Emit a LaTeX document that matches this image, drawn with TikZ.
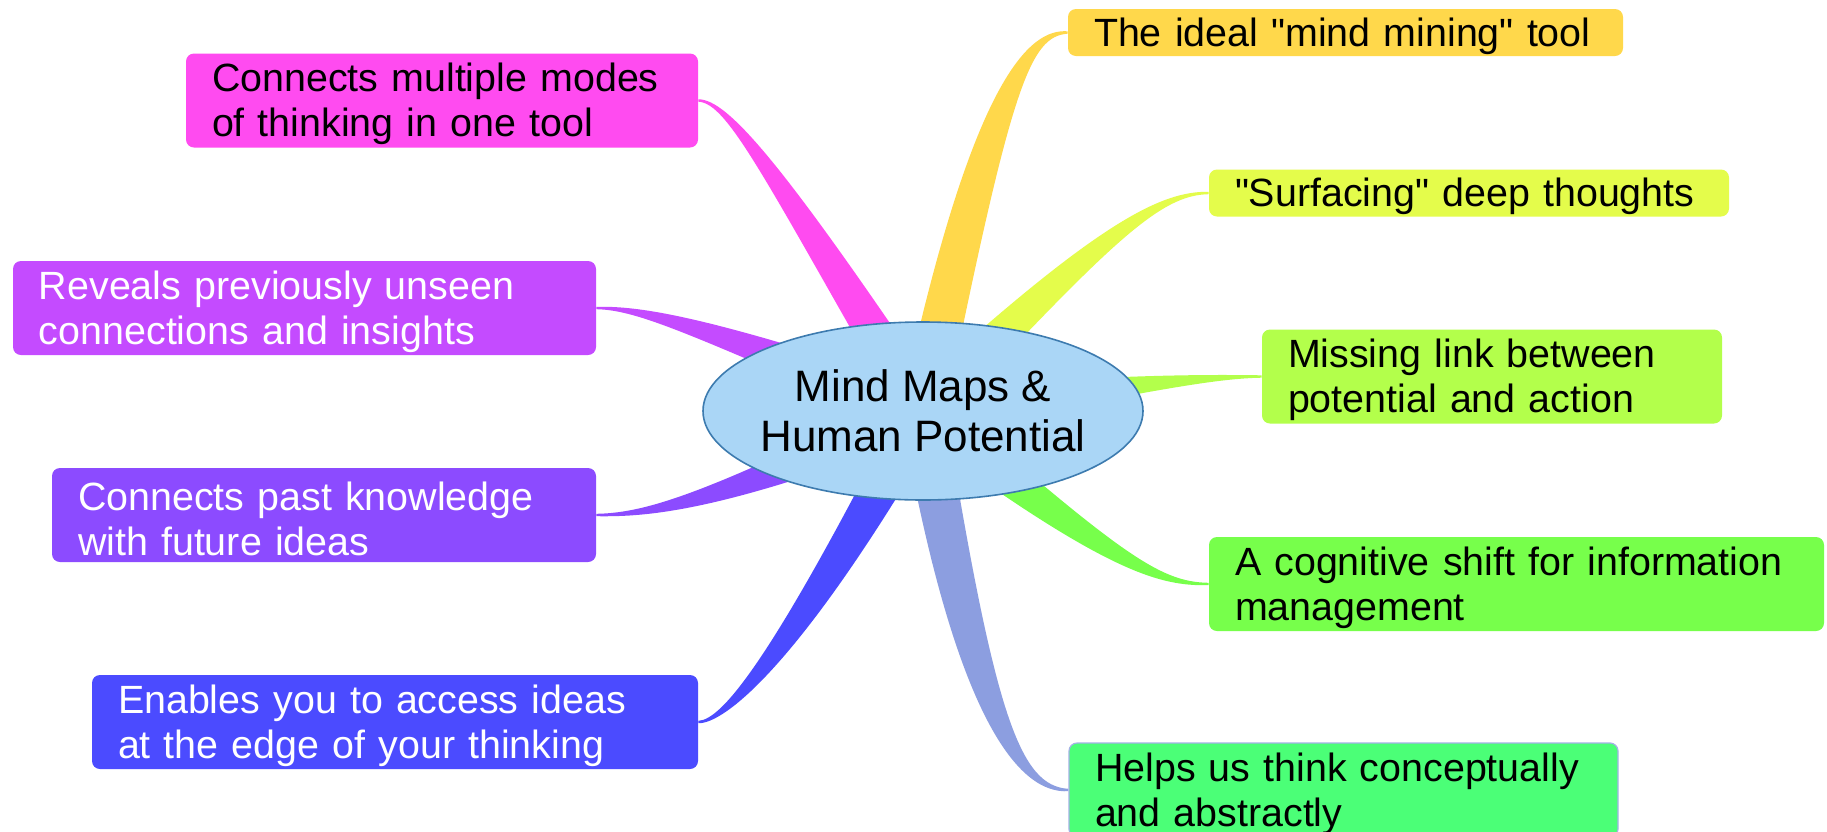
\documentclass[tikz,border=0pt]{standalone}
\usepackage{fontspec}
\setmainfont{Liberation Sans}[Ligatures=TeXOff]
\usetikzlibrary{calc,shapes.geometric}

\definecolor{cModes}{HTML}{FF4BF0}
\definecolor{cReveals}{HTML}{C44BFF}
\definecolor{cPast}{HTML}{8C4BFF}
\definecolor{cEnables}{HTML}{4B4BFF}
\definecolor{cIdeal}{HTML}{FFD84B}
\definecolor{cSurface}{HTML}{E4FC4B}
\definecolor{cMissing}{HTML}{B3FF4B}
\definecolor{cShift}{HTML}{77FF4B}
\definecolor{cHelps}{HTML}{4BFF77}
\definecolor{cHelpsLink}{HTML}{8C9EE0}
\definecolor{cHub}{HTML}{AAD6F6}
\definecolor{cHubLine}{HTML}{3D7BAF}

\pgfdeclarelayer{bg}
\pgfsetlayers{bg,main}

\tikzset{
  idea/.style={rectangle, rounded corners=4pt, inner xsep=13pt, inner ysep=0pt,
    align=left, font=\fontsize{19.7}{22.5}\selectfont, minimum height=47pt,
    execute at begin node=\rule{0pt}{18pt}},
  oneline/.style={idea, minimum height=23.5pt},
  light/.style={text=white},
}

% tapered branch: colour, control near hub, control near box, box anchor, half widths
\newcommand{\branch}[6]{%
  \fill[#1] ($(hub)!11pt!90:#2$)
    .. controls ($#2!#5!-90:(hub)$) and ($#3!#6!90:(#4)$) .. ($(#4)!0.6pt!-90:#3$)
    -- ($(#4)!0.6pt!90:#3$)
    .. controls ($#3!#6!-90:(#4)$) and ($#2!#5!90:(hub)$) .. ($(hub)!11pt!-90:#2$)
    -- cycle;}

\begin{document}
\begin{tikzpicture}[x=0.5pt,y=-0.5pt]
  \useasboundingbox (0,0) rectangle (1827,831);

  \node[ellipse, fill=cHub, draw=cHubLine, line width=0.8pt, minimum width=220pt,
    minimum height=89pt, inner xsep=-5pt, inner ysep=0pt, align=center,
    font=\fontsize{22}{25}\selectfont] (hub) at (923,411) {Mind Maps \&\\Human Potential};

  \node[idea, fill=cModes, text width=230pt] (modes) at (442,100.5)
    {Connects multiple modes\\of thinking in one tool};
  \node[idea, light, fill=cReveals, text width=265.5pt] (reveals) at (304.5,308)
    {Reveals previously unseen\\connections and insights};
  \node[idea, light, fill=cPast, text width=246pt] (past) at (324,515)
    {Connects past knowledge\\with future ideas};
  \node[idea, light, fill=cEnables, text width=277pt] (enables) at (395,722)
    {Enables you to access ideas\\at the edge of your thinking};

  \node[oneline, fill=cIdeal, text width=251.5pt] (ideal) at (1345.5,32.5)
    {The ideal "mind mining" tool};
  \node[oneline, fill=cSurface, text width=234pt] (surface) at (1469,193)
    {"Surfacing" deep thoughts};
  \node[idea, fill=cMissing, text width=204pt] (missing) at (1492,376.5)
    {Missing link between\\potential and action};
  \node[idea, fill=cShift, text width=281.5pt] (shift) at (1516.5,584)
    {A cognitive shift for information\\management};
  \node[idea, fill=cHelps, draw=cHelpsLink!80, line width=0.6pt, text width=248.5pt] (helps) at (1343.5,790)
    {Helps us think conceptually\\and abstractly};

  \begin{pgfonlayer}{bg}
    \fill[white] (0,0) rectangle (1827,831);
    \branch{cModes}{(775,173)}{(728,101)}{modes.east}{6pt}{1pt}
    \branch{cIdeal}{(992,80)}{(1030,32.5)}{ideal.west}{10pt}{2pt}
    \branch{cSurface}{(1104,232)}{(1160,193)}{surface.west}{6pt}{1pt}
    \branch{cMissing}{(1120,386)}{(1205,376.5)}{missing.west}{6pt}{1pt}
    \branch{cShift}{(1115,565)}{(1160,584)}{shift.west}{6pt}{1pt}
    \branch{cHelpsLink}{(975,720)}{(1020,790)}{helps.west}{10pt}{2pt}
    \branch{cEnables}{(785,665)}{(722,722)}{enables.east}{7pt}{1pt}
    \branch{cPast}{(720,500)}{(650,515)}{past.east}{6pt}{1pt}
    \branch{cReveals}{(700,326)}{(640,308)}{reveals.east}{6pt}{1pt}
  \end{pgfonlayer}
\end{tikzpicture}
\end{document}
